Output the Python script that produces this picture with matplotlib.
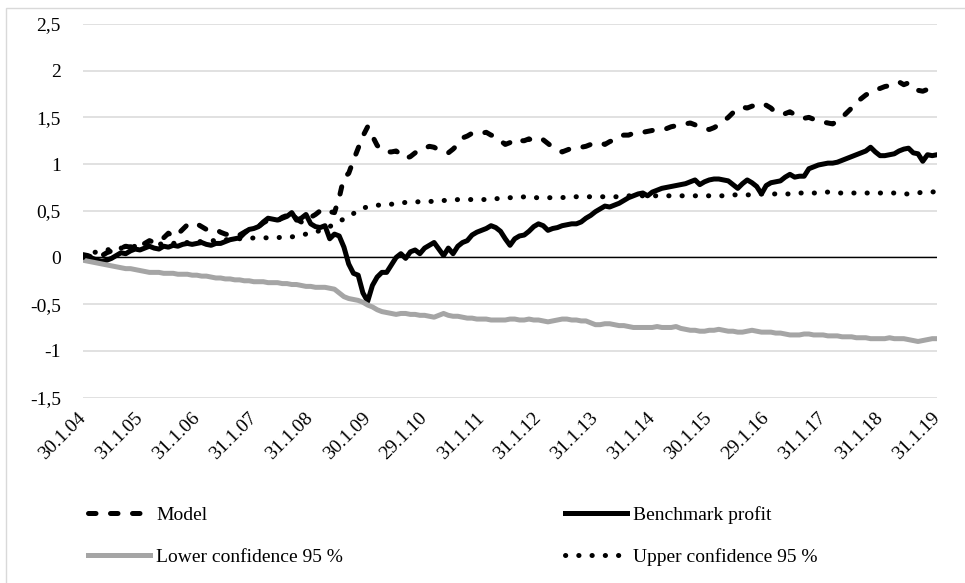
import numpy as np
import matplotlib
matplotlib.use("Agg")
import matplotlib.pyplot as plt
from matplotlib.lines import Line2D
from matplotlib.patches import Rectangle

plt.rcParams['font.family'] = ['Liberation Serif', 'DejaVu Serif']

# yearly labels (last trading day of January), data is monthly
date_labels = ['30.1.04', '31.1.05', '31.1.06', '31.1.07', '31.1.08', '30.1.09',
               '29.1.10', '31.1.11', '31.1.12', '31.1.13', '31.1.14', '30.1.15',
               '29.1.16', '31.1.17', '31.1.18', '31.1.19']

y_ticks = [-1.5, -1.0, -0.5, 0.0, 0.5, 1.0, 1.5, 2.0, 2.5]
y_labels = ['-1,5', '-1', '-0,5', '0', '0,5', '1', '1,5', '2', '2,5']

model = [
    0.03, 0.02, 0.00, -0.01, 0.02, 0.05, 0.07, 0.09, 0.10, 0.12, 0.11, 0.14,
    0.13, 0.15, 0.18, 0.16, 0.17, 0.21, 0.26, 0.22, 0.25, 0.30, 0.35, 0.37,
    0.36, 0.33, 0.30, 0.29, 0.30, 0.27, 0.25, 0.24, 0.22, 0.24, 0.27, 0.30,
    0.32, 0.33, 0.37, 0.40, 0.38, 0.39, 0.43, 0.45, 0.49, 0.41, 0.38, 0.44,
    0.43, 0.46, 0.50, 0.52, 0.49, 0.48, 0.64, 0.86, 0.90, 1.04, 1.17, 1.30,
    1.40, 1.30, 1.20, 1.15, 1.13, 1.13, 1.14, 1.10, 1.06, 1.08, 1.12, 1.16,
    1.17, 1.19, 1.18, 1.15, 1.13, 1.12, 1.16, 1.21, 1.28, 1.30, 1.33, 1.32,
    1.33, 1.34, 1.31, 1.30, 1.25, 1.21, 1.23, 1.27, 1.25, 1.25, 1.27, 1.24,
    1.25, 1.26, 1.22, 1.18, 1.15, 1.13, 1.15, 1.17, 1.18, 1.18, 1.19, 1.21,
    1.22, 1.23, 1.21, 1.24, 1.26, 1.30, 1.31, 1.31, 1.33, 1.34, 1.34, 1.35,
    1.36, 1.37, 1.38, 1.38, 1.40, 1.41, 1.42, 1.43, 1.44, 1.42, 1.39, 1.38,
    1.37, 1.39, 1.42, 1.46, 1.50, 1.55, 1.59, 1.61, 1.60, 1.62, 1.63, 1.65,
    1.63, 1.60, 1.55, 1.54, 1.54, 1.56, 1.53, 1.50, 1.49, 1.50, 1.48, 1.46,
    1.45, 1.44, 1.43, 1.46, 1.50, 1.55, 1.60, 1.66, 1.70, 1.74, 1.77, 1.80,
    1.81, 1.83, 1.84, 1.86, 1.88, 1.85, 1.87, 1.82, 1.79, 1.78, 1.80, 1.81,
    1.79,
]

benchmark = [
    0.02, 0.01, -0.01, -0.03, -0.04, -0.03, -0.01, 0.02, 0.05, 0.04, 0.07, 0.09,
    0.08, 0.10, 0.12, 0.10, 0.09, 0.12, 0.11, 0.13, 0.12, 0.14, 0.15, 0.14,
    0.15, 0.16, 0.14, 0.13, 0.15, 0.15, 0.17, 0.19, 0.20, 0.21, 0.26, 0.30,
    0.31, 0.33, 0.38, 0.42, 0.41, 0.40, 0.42, 0.44, 0.48, 0.40, 0.42, 0.46,
    0.36, 0.33, 0.32, 0.34, 0.20, 0.25, 0.23, 0.11, -0.07, -0.17, -0.19, -0.38,
    -0.47, -0.30, -0.21, -0.16, -0.16, -0.08, 0.00, 0.04, -0.01, 0.06, 0.08, 0.04,
    0.10, 0.13, 0.16, 0.09, 0.02, 0.10, 0.04, 0.12, 0.16, 0.18, 0.24, 0.27,
    0.29, 0.31, 0.34, 0.32, 0.28, 0.20, 0.13, 0.20, 0.23, 0.24, 0.28, 0.33,
    0.36, 0.34, 0.29, 0.31, 0.32, 0.34, 0.35, 0.36, 0.36, 0.38, 0.42, 0.45,
    0.49, 0.52, 0.55, 0.54, 0.56, 0.58, 0.61, 0.64, 0.66, 0.68, 0.69, 0.66,
    0.70, 0.72, 0.74, 0.75, 0.76, 0.77, 0.78, 0.79, 0.81, 0.83, 0.78, 0.81,
    0.83, 0.84, 0.84, 0.83, 0.82, 0.78, 0.74, 0.79, 0.83, 0.80, 0.76, 0.68,
    0.77, 0.80, 0.81, 0.82, 0.86, 0.89, 0.86, 0.87, 0.87, 0.95, 0.97, 0.99,
    1.00, 1.01, 1.01, 1.02, 1.04, 1.06, 1.08, 1.10, 1.12, 1.14, 1.18, 1.13,
    1.09, 1.09, 1.10, 1.11, 1.14, 1.16, 1.17, 1.12, 1.11, 1.03, 1.10, 1.09,
    1.10,
]

lower_conf = [
    -0.03, -0.04, -0.05, -0.06, -0.07, -0.08, -0.09, -0.10, -0.11, -0.12, -0.12, -0.13,
    -0.14, -0.15, -0.16, -0.16, -0.16, -0.17, -0.17, -0.17, -0.18, -0.18, -0.18, -0.19,
    -0.19, -0.20, -0.20, -0.21, -0.22, -0.22, -0.23, -0.23, -0.24, -0.24, -0.25, -0.25,
    -0.26, -0.26, -0.26, -0.27, -0.27, -0.27, -0.28, -0.28, -0.29, -0.29, -0.30, -0.31,
    -0.31, -0.32, -0.32, -0.32, -0.33, -0.34, -0.38, -0.42, -0.44, -0.45, -0.46, -0.48,
    -0.51, -0.53, -0.56, -0.58, -0.59, -0.60, -0.61, -0.60, -0.60, -0.61, -0.61, -0.62,
    -0.62, -0.63, -0.64, -0.62, -0.60, -0.62, -0.63, -0.63, -0.64, -0.65, -0.65, -0.66,
    -0.66, -0.66, -0.67, -0.67, -0.67, -0.67, -0.66, -0.66, -0.67, -0.67, -0.66, -0.67,
    -0.67, -0.68, -0.69, -0.68, -0.67, -0.66, -0.66, -0.67, -0.67, -0.68, -0.68, -0.70,
    -0.72, -0.72, -0.71, -0.71, -0.72, -0.73, -0.73, -0.74, -0.75, -0.75, -0.75, -0.75,
    -0.75, -0.74, -0.75, -0.75, -0.75, -0.74, -0.76, -0.77, -0.78, -0.78, -0.79, -0.79,
    -0.78, -0.78, -0.77, -0.78, -0.79, -0.79, -0.80, -0.80, -0.79, -0.78, -0.79, -0.80,
    -0.80, -0.80, -0.81, -0.81, -0.82, -0.83, -0.83, -0.83, -0.82, -0.82, -0.83, -0.83,
    -0.83, -0.84, -0.84, -0.84, -0.85, -0.85, -0.85, -0.86, -0.86, -0.86, -0.87, -0.87,
    -0.87, -0.87, -0.86, -0.87, -0.87, -0.87, -0.88, -0.89, -0.90, -0.89, -0.88, -0.87,
    -0.87,
]

upper_conf = [
    0.00, 0.03, 0.05, 0.06, 0.07, 0.08, 0.09, 0.10, 0.10, 0.11, 0.11, 0.12,
    0.12, 0.13, 0.13, 0.14, 0.14, 0.15, 0.15, 0.15, 0.16, 0.16, 0.16, 0.17,
    0.17, 0.17, 0.18, 0.18, 0.18, 0.19, 0.19, 0.19, 0.20, 0.20, 0.20, 0.20,
    0.21, 0.21, 0.21, 0.21, 0.21, 0.21, 0.22, 0.22, 0.22, 0.23, 0.24, 0.25,
    0.26, 0.27, 0.29, 0.31, 0.33, 0.36, 0.39, 0.41, 0.44, 0.47, 0.50, 0.53,
    0.54, 0.55, 0.56, 0.56, 0.57, 0.57, 0.58, 0.58, 0.59, 0.59, 0.59, 0.60,
    0.60, 0.60, 0.60, 0.60, 0.61, 0.61, 0.61, 0.62, 0.62, 0.62, 0.62, 0.62,
    0.62, 0.62, 0.63, 0.63, 0.63, 0.64, 0.64, 0.64, 0.64, 0.65, 0.64, 0.64,
    0.64, 0.64, 0.64, 0.64, 0.64, 0.64, 0.65, 0.65, 0.65, 0.65, 0.65, 0.65,
    0.65, 0.65, 0.65, 0.65, 0.65, 0.65, 0.66, 0.66, 0.66, 0.66, 0.66, 0.66,
    0.66, 0.66, 0.66, 0.66, 0.66, 0.66, 0.66, 0.66, 0.66, 0.66, 0.66, 0.66,
    0.66, 0.66, 0.66, 0.66, 0.67, 0.67, 0.67, 0.67, 0.67, 0.67, 0.67, 0.68,
    0.68, 0.68, 0.68, 0.68, 0.68, 0.68, 0.68, 0.69, 0.69, 0.69, 0.69, 0.69,
    0.70, 0.70, 0.70, 0.69, 0.69, 0.69, 0.69, 0.69, 0.69, 0.69, 0.69, 0.69,
    0.69, 0.69, 0.69, 0.69, 0.69, 0.68, 0.68, 0.68, 0.69, 0.70, 0.70, 0.70,
    0.71,
]

months = np.arange(len(model))

LW = 3.6
DASHED = (0, (1.5, 2.9))
DOTTED = (0, (0.05, 2.6))
GREY = '#a5a5a5'

fig = plt.figure(figsize=(9.65, 5.83), dpi=100)
ax = fig.add_axes([83 / 965, 1 - 397.5 / 583, (937 - 83) / 965, (397.5 - 24) / 583])

for side in ax.spines.values():
    side.set_visible(False)

ax.set_ylim(-1.5, 2.5)
ax.set_xlim(months[0], months[-1])
ax.set_yticks(y_ticks)
ax.set_yticklabels(y_labels)
ax.grid(axis='y', color='#d9d9d9', lw=1.1)
ax.set_axisbelow(True)
ax.axhline(0, color='black', lw=1.0, zorder=1.5)

ax.set_xticks(months[::12])
ax.set_xticklabels(date_labels, rotation=45, ha='right', va='center',
                   rotation_mode='anchor')
ax.tick_params(axis='x', length=0, pad=13, labelsize=14)
ax.tick_params(axis='y', length=0, pad=16, labelsize=14)

ax.plot(months, model, color='black', lw=LW, ls=DASHED,
        dash_capstyle='round', dash_joinstyle='round')
ax.plot(months, benchmark, color='black', lw=LW,
        solid_capstyle='round', solid_joinstyle='round')
ax.plot(months, lower_conf, color=GREY, lw=LW,
        solid_capstyle='round', solid_joinstyle='round')
ax.plot(months, upper_conf, color='black', lw=LW, ls=DOTTED,
        dash_capstyle='round')

# legend ordered column-wise so the rows read Model / Benchmark, Lower / Upper
handles = [
    Line2D([], [], color='black', lw=LW, ls=DASHED, dash_capstyle='round'),
    Line2D([], [], color=GREY, lw=LW),
    Line2D([], [], color='black', lw=LW),
    Line2D([], [], color='black', lw=LW, ls=DOTTED, dash_capstyle='round'),
]
labels = ['Model', 'Lower confidence 95 %', 'Benchmark profit', 'Upper confidence 95 %']
fig.legend(handles, labels, ncol=2, loc='upper left',
           bbox_to_anchor=(88 / 965, 1 - 506 / 583), frameon=False,
           fontsize=14, handlelength=3.2, handletextpad=0.3,
           columnspacing=11.4, labelspacing=1.25, borderpad=0, borderaxespad=0)

# thin chart-area frame
fig.patches.append(Rectangle((6 / 965, -0.05), 1.2, 1 - 8 / 583 + 0.05,
                             transform=fig.transFigure, fill=False,
                             edgecolor='#d9d9d9', lw=1.0))

fig.savefig('out.png', dpi=100)
